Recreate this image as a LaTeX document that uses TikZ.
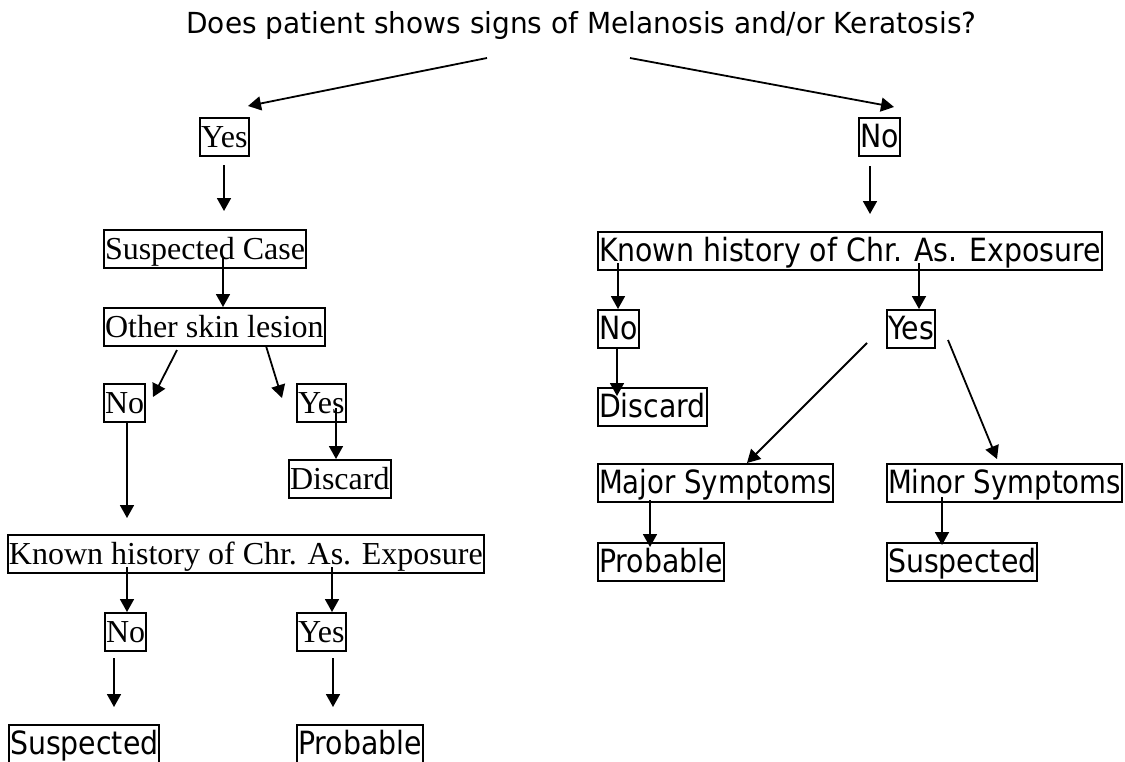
\documentclass[tikz,border=0pt]{standalone}
\usepackage{fontspec}
\setmainfont{Liberation Serif}
\newfontfamily\tahfont{DejaVu Sans}[FakeStretch=0.887]
\newfontfamily\tahnarrow{DejaVu Sans}[FakeStretch=0.862]
\newfontfamily\tahtitle{DejaVu Sans}[FakeStretch=0.965]
\usetikzlibrary{arrows.meta,calc}
\tikzset{
  box/.style={draw, line width=2pt, inner xsep=1pt, inner ysep=1pt,
    text height=28pt, text depth=8pt, anchor=north west},
  serifbox/.style={box, font=\fontsize{32}{38}\selectfont},
  sansbox/.style={box, font=\tahfont\fontsize{32}{38}\selectfont},
  narrowbox/.style={box, font=\tahnarrow\fontsize{32}{38}\selectfont},
  titletext/.style={font=\tahtitle\fontsize{29}{34}\selectfont, inner sep=0pt, anchor=base},
  arr/.style={line width=1.8pt, -{Triangle[length=13pt,width=14pt]}}
}
\begin{document}
\begin{tikzpicture}[x=1pt,y=-1pt]
\useasboundingbox (0,0) rectangle (1125,761);
% title
\node[titletext] (title) at (581.5,33) {Does patient shows signs of Melanosis and/or Keratosis?};
% left branch
\node[serifbox] (yesL)    at (199,117) {Yes};
\node[serifbox] (susCase) at (103,229) {Suspected Case};
\node[serifbox] (other)   at (103,307) {Other skin lesion};
\node[serifbox] (noL)     at (103,383) {No};
\node[serifbox] (yesL2)   at (296,383) {Yes};
\node[serifbox] (discL)   at (288,459) {Discard};
\node[serifbox] (knownL)  at (7,534)   {Known history of Chr. As. Exposure};
\node[serifbox] (noL2)    at (104,612) {No};
\node[serifbox] (yesL3)   at (296,612) {Yes};
\node[sansbox]  (suspL)   at (8,724)   {Suspected};
\node[sansbox]  (probL)   at (296,724) {Probable};
% right branch
\node[sansbox] (noR)    at (858,117) {No};
\node[sansbox] (knownR) at (597,231) {Known history of Chr. As. Exposure};
\node[sansbox] (noR2)   at (597,309) {No};
\node[sansbox] (yesR)   at (886,309) {Yes};
\node[sansbox] (discR)  at (597,387) {Discard};
\node[narrowbox] (major)  at (597,463) {Major Symptoms};
\node[narrowbox] (minor)  at (886,463) {Minor Symptoms};
\node[sansbox] (probR)  at (597,542) {Probable};
\node[sansbox] (suspR)  at (886,542) {Suspected};
% connectors
\draw[arr] ($(title.base)+(-94.5,25)$) -- ($(yesL.north west)+(49,-11)$);
\draw[arr] ($(title.base)+(48.5,25)$) -- ($(noR.north west)+(36,-10)$);
\draw[arr] ($(yesL.north west)+(25,48)$) -- ($(susCase.north west)+(121,-18)$);
\draw[arr] ($(susCase.north west)+(120,29)$) -- ($(other.north west)+(120,0)$);
\draw[arr] ($(other.north west)+(74,43)$) -- ($(noL.north west)+(50,14)$);
\draw[arr] ($(other.north west)+(163,39)$) -- ($(yesL2.north west)+(-14,15)$);
\draw[arr] ($(yesL2.north west)+(40,25)$) -- ($(discL.north west)+(48,0)$);
\draw[arr] ($(noL.north west)+(24,40)$) -- ($(knownL.north west)+(120,-16)$);
\draw[arr] ($(knownL.north west)+(120,33)$) -- ($(noL2.north west)+(23,0)$);
\draw[arr] ($(knownL.north west)+(325,33)$) -- ($(yesL3.north west)+(36,0)$);
\draw[arr] ($(noL2.north west)+(10,46)$) -- ($(suspL.north west)+(106,-17)$);
\draw[arr] ($(yesL3.north west)+(37,46)$) -- ($(probL.north west)+(37,-17)$);
\draw[arr] ($(noR.north west)+(12,49)$) -- ($(knownR.north west)+(273,-17)$);
\draw[arr] ($(knownR.north west)+(21,32)$) -- ($(noR2.north west)+(21,0)$);
\draw[arr] ($(knownR.north west)+(322,32)$) -- ($(yesR.north west)+(33,0)$);
\draw[arr] ($(noR2.north west)+(20,40)$) -- ($(discR.north west)+(20,9)$);
\draw[arr] ($(yesR.north west)+(-19,34)$) -- ($(major.north west)+(150,0)$);
\draw[arr] ($(yesR.north west)+(62,31)$) -- ($(minor.north west)+(111,-4)$);
\draw[arr] ($(major.north west)+(53,37)$) -- ($(probR.north west)+(53,5)$);
\draw[arr] ($(minor.north west)+(56,34)$) -- ($(suspR.north west)+(56,3)$);
\end{tikzpicture}
\end{document}
